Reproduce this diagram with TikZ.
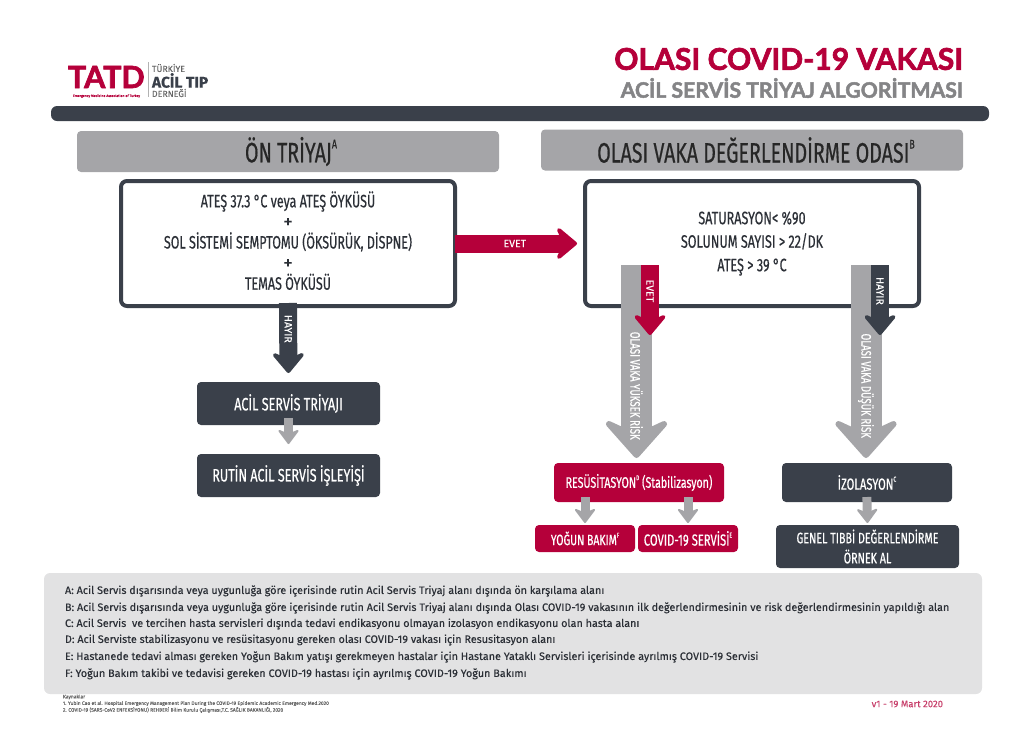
\documentclass[tikz,border=0pt]{standalone}
\usepackage{fontspec}
\usepackage{xcolor}
\usepackage{graphicx}
\usetikzlibrary{arrows.meta, calc}
\setmainfont[FakeBold=.25]{Fira Sans}
\newfontfamily\dinfont[FakeStretch=.7,FakeBold=.5]{Fira Sans}
\newfontfamily\titlefont[FakeBold=2.2]{Lato}
\newcommand{\ustu}[1]{\raisebox{.5em}{\scalebox{.45}{#1}}}
\newcommand{\artimark}{{\normalfont\fontsize{19}{20.6}\selectfont +}}
\definecolor{tatdred}{HTML}{B5003A}
\definecolor{tatddark}{HTML}{3A404A}
\definecolor{tatdgray}{HTML}{A5A5A8}
\definecolor{tatdpanel}{HTML}{E2E2E3}
\definecolor{tatdink}{HTML}{2B2F36}
\tikzset{
	headbox/.style={fill=tatdgray, rounded corners=4pt, minimum width=422pt, minimum height=41pt, text=black!85, font=\dinfont\fontsize{28}{30}\selectfont},
	mainbox/.style={draw=tatddark, line width=4pt, rounded corners=6pt, minimum width=334pt, minimum height=125pt, align=center, text=tatdink, font=\dinfont\fontsize{17.9}{20.6}\selectfont},
	darkbox/.style={fill=tatddark, rounded corners=4pt, text=white, align=center, font=\dinfont\fontsize{18}{20}\selectfont},
	redbox/.style={fill=tatdred, rounded corners=4pt, text=white, align=center, font=\dinfont\fontsize{15.2}{20}\selectfont},
	noteline/.style={anchor=west, text=tatdink, font=\fontsize{10.8}{12}\selectfont},
	refline/.style={anchor=west, text=black!60, font=\fontsize{4.95}{6}\selectfont},
	vlabel/.style={rotate=-90, text=white, font=\dinfont\fontsize{13.8}{14}\selectfont},
	shortlabel/.style={rotate=-90, text=white, font=\fontsize{10.5}{12}\selectfont},
	bigarrow/.style={draw=tatdgray, line width=31pt, -{Stealth[length=44pt,width=78pt,inset=18pt,round,line width=6pt]}},
	redarrow/.style={draw=tatdred, line width=18pt, -{Stealth[length=24pt,width=40pt,inset=9pt,round,line width=4pt]}},
	darkarrow/.style={draw=tatddark, line width=18pt, -{Stealth[length=24pt,width=40pt,inset=9pt,round,line width=4pt]}},
	smallarrow/.style={draw=tatdgray, line width=9pt, -{Stealth[length=16pt,width=24pt,inset=5pt,round,line width=2pt]}}
}
\begin{document}
\begin{tikzpicture}[x=1pt,y=-1pt,every node/.style={outer sep=0pt,inner sep=0pt}]
	\useasboundingbox (0,0) rectangle (1024,731);
	\node[anchor=east, text=tatdred, font=\titlefont\bfseries\fontsize{30}{32}\selectfont] (title) at (963,59) {OLASI COVID-19 VAKASI};
	\node[anchor=east, text=tatdgray!80!black, font=\titlefont\bfseries\fontsize{21.2}{24}\selectfont] (subtitle) at (963,88) {ACİL SERVİS TRİYAJ ALGORİTMASI};
	\node[anchor=west, text=tatdred, text depth=0pt, font=\titlefont\bfseries\fontsize{30.5}{31}\selectfont] (logo) at (68,77) {TATD};
	\node[anchor=west, text=tatdred, font=\fontsize{3.5}{3.6}\selectfont] (motto) at (73,96) {Emergency Medicine Association of Turkey};
	\node[anchor=west, text=black!60, font=\fontsize{8.8}{9}\selectfont] (org1) at (152,68) {TÜRKİYE};
	\node[anchor=west, text=tatddark, font=\bfseries\fontsize{15.5}{16}\selectfont] (org2) at (152,80.5) {ACİL TIP};
	\node[anchor=west, text=black!60, font=\fontsize{8.8}{9}\selectfont] (org3) at (152,93) {DERNEĞİ};
	\draw[black!30, line width=.5pt] (148,62) -- (148,97);
	\node[fill=tatddark, rounded corners=6pt, minimum width=938pt, minimum height=15pt] (bar) at (520,113.5) {};

	\node[headbox] (onhead) at (288,151.5) {\hspace*{6pt}ÖN TRİYAJ\ustu{A}};
	\node[headbox] (olasihead) at (752,150) {\hspace*{8pt}OLASI VAKA DEĞERLENDİRME ODASI\ustu{B}};

	\node[mainbox, text depth=6pt] (ontriyaj) at (288,243.5) {ATEŞ 37.3 °C veya ATEŞ ÖYKÜSÜ\\\artimark\\SOL SİSTEMİ SEMPTOMU (ÖKSÜRÜK, DİSPNE)\\\artimark\\TEMAS ÖYKÜSÜ};
	\node[mainbox, font=\dinfont\fontsize{18}{23.5}\selectfont] (olasi) at (752,243.5) {SATURASYON< \%90\\SOLUNUM SAYISI > 22/DK\\ATEŞ > 39 °C};

	\node[darkbox, minimum width=183pt, minimum height=43pt] (triyaj) at (288.5,403.5) {ACİL SERVİS TRİYAJI};
	\node[darkbox, minimum width=183pt, minimum height=43pt] (rutin) at (288.5,475.5) {RUTİN ACİL SERVİS İŞLEYİŞİ};
	\node[redbox, minimum width=170pt, minimum height=39pt] (resus) at (639,482.5) {RESÜSİTASYON\ustu{D} (Stabilizasyon)};
	\node[darkbox, minimum width=170pt, minimum height=39pt, font=\dinfont\fontsize{16}{18}\selectfont] (izol) at (867,482.5) {İZOLASYON\ustu{C}};
	\node[redbox, minimum width=100pt, minimum height=27pt, font=\dinfont\fontsize{15}{18}\selectfont] (yogun) at (585,538.5) {YOĞUN BAKIM\ustu{F}};
	\node[redbox, minimum width=100pt, minimum height=27pt, font=\dinfont\fontsize{16}{18}\selectfont] (covid) at (688,538.5) {COVID-19 SERVİSİ\ustu{E}};
	\node[darkbox, minimum width=183pt, minimum height=43pt, font=\dinfont\fontsize{15.3}{20}\selectfont] (genel) at (867.5,546.5) {GENEL TIBBİ DEĞERLENDİRME\\ÖRNEK AL};

	\coordinate (yuksek) at (636.5,265);
	\coordinate (dusuk) at (866,265);
	\coordinate (evet) at (650,265);
	\coordinate (hayir) at (880,265);

	\draw[redarrow, shorten >=8pt] (ontriyaj.east) -- node[pos=.46, text=white, font=\fontsize{10.5}{12}\selectfont] (evetlabel) {EVET} (olasi.west);
	\draw[darkarrow, shorten <=-3pt, shorten >=9pt] (ontriyaj.south) -- node[pos=.3, shortlabel] (hayirlabel) {HAYIR} (triyaj.north);
	\draw[smallarrow, shorten <=-7pt, shorten >=10pt] (triyaj.south) -- (rutin.north);

	\draw[bigarrow, shorten >=5pt] (yuksek) -- node[pos=.61, vlabel] (yukseklabel) {OLASI VAKA YÜKSEK RİSK} (yuksek |- resus.north);
	\draw[bigarrow, shorten >=5pt] (dusuk) -- node[pos=.61, vlabel] (dusuklabel) {OLASI VAKA DÜŞÜK RİSK} (dusuk |- izol.north);
	\draw[redarrow] (evet) -- node[pos=.37, shortlabel] (evetlabeltwo) {EVET} (650,335);
	\draw[darkarrow] (hayir) -- node[pos=.37, shortlabel] (hayirlabeltwo) {HAYIR} (880,335);

	\draw[smallarrow, shorten <=-5pt, shorten >=2pt] (yogun |- resus.south) -- (yogun.north);
	\draw[smallarrow, shorten <=-5pt, shorten >=2pt] (covid |- resus.south) -- (covid.north);
	\draw[smallarrow, shorten <=-5pt, shorten >=2pt] (izol.south) -- (genel.north);

	\node[fill=tatdpanel, rounded corners=6pt, minimum width=938pt, minimum height=121pt] (panel) at (513,633.5) {};
	\node[noteline] (notea) at (65,591) {A: Acil Servis dışarısında veya uygunluğa göre içerisinde rutin Acil Servis Triyaj alanı dışında ön karşılama alanı};
	\node[noteline] (noteb) at (65,608) {B: Acil Servis dışarısında veya uygunluğa göre içerisinde rutin Acil Servis Triyaj alanı dışında Olası COVID-19 vakasının ilk değerlendirmesinin ve risk değerlendirmesinin yapıldığı alan};
	\node[noteline] (notec) at (65,624) {C: Acil Servis\ \ ve tercihen hasta servisleri dışında tedavi endikasyonu olmayan izolasyon endikasyonu olan hasta alanı};
	\node[noteline] (noted) at (65,640) {D: Acil Serviste stabilizasyonu ve resüsitasyonu gereken olası COVID-19 vakası için Resusitasyon alanı};
	\node[noteline] (notee) at (65,657) {E: Hastanede tedavi alması gereken Yoğun Bakım yatışı gerekmeyen hastalar için Hastane Yataklı Servisleri içerisinde ayrılmış COVID-19 Servisi};
	\node[noteline] (notef) at (65,674) {F: Yoğun Bakım takibi ve tedavisi gereken COVID-19 hastası için ayrılmış COVID-19 Yoğun Bakımı};

	\node[refline] (kaynak) at (63,697) {Kaynaklar};
	\node[refline] (refone) at (63,703.5) {1. Yubin Cao et al. Hospital Emergency Management Plan During the COVID-19 Epidemic Academic Emergency Med.2020};
	\node[refline] (reftwo) at (63,710) {2. COVID-19 (SARS-CoV2 ENFEKSİYONU) REHBERİ Bilim Kurulu Çalışması,T.C. SAĞLIK BAKANLIĞI, 2020};
	\node[anchor=east, text=tatdred!75, font=\fontsize{9.5}{11}\selectfont] (surum) at (943,704) {v1 - 19 Mart 2020};
\end{tikzpicture}
\end{document}
